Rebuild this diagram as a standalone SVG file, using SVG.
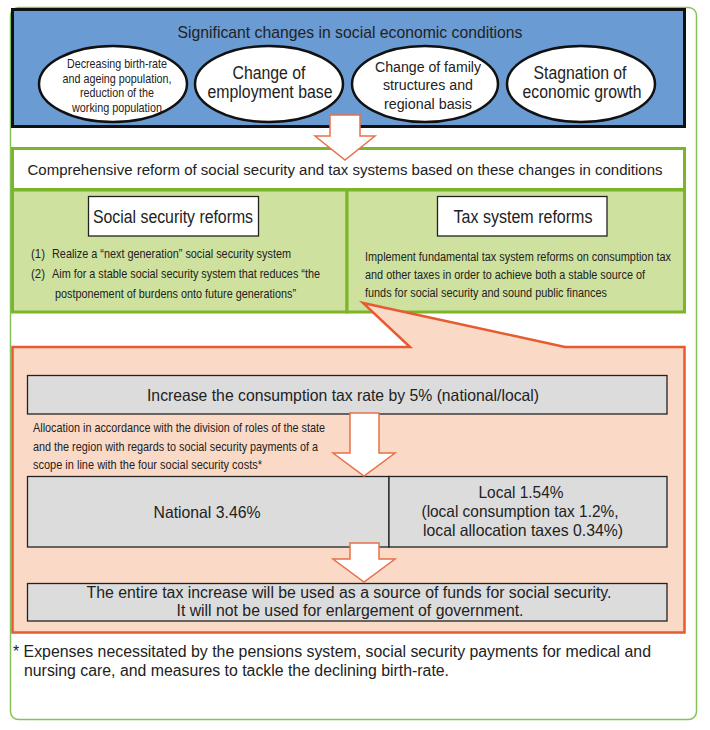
<svg xmlns="http://www.w3.org/2000/svg" width="710" height="730" viewBox="0 0 710 730">
<style>
text{font-family:"Liberation Sans",Arial,sans-serif;fill:#222;}
.c{text-anchor:middle;}
.n{font-size:13.5px;}
.ell{fill:#fff;stroke:#111;stroke-width:2.5;}
.gbox{fill:#cfe19e;stroke:#7cb42a;stroke-width:3;}
.gray{fill:#dcdcdc;stroke:#222;stroke-width:1.3;}
.arr{fill:#fff;stroke:#e8704a;stroke-width:1.5;}
.lbl{fill:#fff;stroke:#222;stroke-width:1.3;}
</style>
<rect x="10.5" y="7.5" width="686" height="712" rx="8" fill="#fff" stroke="#86c25a" stroke-width="1.5"/>

<g id="changes">
<rect x="12.5" y="9.5" width="672" height="117" fill="#6a9bd2" stroke="#111" stroke-width="3"/>
<text x="350" y="38" class="c" font-size="17" textLength="345" lengthAdjust="spacingAndGlyphs">Significant changes in social economic conditions</text>
</g>
<g id="e1">
<ellipse cx="113" cy="84" rx="74" ry="38" class="ell"/>
<text class="c n" x="117" y="68" textLength="100" lengthAdjust="spacingAndGlyphs">Decreasing birth-rate</text>
<text class="c n" x="117" y="83" textLength="109" lengthAdjust="spacingAndGlyphs">and ageing population,</text>
<text class="c n" x="117" y="97" textLength="74" lengthAdjust="spacingAndGlyphs">reduction of the</text>
<text class="c n" x="117" y="112" textLength="90" lengthAdjust="spacingAndGlyphs">working population</text>
</g>
<g id="e2">
<ellipse cx="269" cy="84" rx="74" ry="38" class="ell"/>
<text class="c" x="269" y="79" font-size="17.5" textLength="73" lengthAdjust="spacingAndGlyphs">Change of</text>
<text class="c" x="270" y="98" font-size="17.5" textLength="125" lengthAdjust="spacingAndGlyphs">employment base</text>
</g>
<g id="e3">
<ellipse cx="425" cy="84" rx="73" ry="38" class="ell"/>
<text class="c" x="428" y="72" font-size="15.5" textLength="106" lengthAdjust="spacingAndGlyphs">Change of family</text>
<text class="c" x="428" y="90" font-size="15.5" textLength="90" lengthAdjust="spacingAndGlyphs">structures and</text>
<text class="c" x="428" y="109" font-size="15.5" textLength="88" lengthAdjust="spacingAndGlyphs">regional basis</text>
</g>
<g id="e4">
<ellipse cx="581" cy="84" rx="74" ry="38" class="ell"/>
<text class="c" x="580" y="79" font-size="17.5" textLength="93" lengthAdjust="spacingAndGlyphs">Stagnation of</text>
<text class="c" x="582" y="98" font-size="17.5" textLength="119" lengthAdjust="spacingAndGlyphs">economic growth</text>
</g>

<g id="comprehensive">
<rect x="12.5" y="148.5" width="672" height="41" fill="#fff" stroke="#7cb42a" stroke-width="3"/>
<text class="c" x="345" y="175" font-size="15.5" textLength="635" lengthAdjust="spacingAndGlyphs">Comprehensive reform of social security and tax systems based on these changes in conditions</text>
</g>

<g id="social">
<rect x="12.5" y="190" width="334.5" height="122" class="gbox"/>
<rect x="88.5" y="196.5" width="170" height="39.5" class="lbl"/>
<text class="c" x="173" y="223" font-size="17.5" textLength="160" lengthAdjust="spacingAndGlyphs">Social security reforms</text>
<text class="n" x="31" y="258" textLength="14" lengthAdjust="spacingAndGlyphs">(1)</text>
<text class="n" x="52" y="258" textLength="239" lengthAdjust="spacingAndGlyphs">Realize a “next generation” social security system</text>
<text class="n" x="31" y="278" textLength="14" lengthAdjust="spacingAndGlyphs">(2)</text>
<text class="n" x="52" y="278" textLength="268" lengthAdjust="spacingAndGlyphs">Aim for a stable social security system that reduces “the</text>
<text class="n" x="55" y="298" textLength="241" lengthAdjust="spacingAndGlyphs">postponement of burdens onto future generations”</text>
</g>

<g id="tax">
<rect x="347" y="190" width="337.5" height="122" class="gbox"/>
<rect x="437.5" y="196.5" width="169.5" height="39.5" class="lbl"/>
<text class="c" x="523" y="223" font-size="17.5" textLength="139" lengthAdjust="spacingAndGlyphs">Tax system reforms</text>
<text class="n" transform="translate(365 261) scale(0.8 1)" x="0" y="0" textLength="382.5" lengthAdjust="spacingAndGlyphs">Implement fundamental tax system reforms on consumption tax</text>
<text class="n" transform="translate(365 279) scale(0.8 1)" x="0" y="0" textLength="350" lengthAdjust="spacingAndGlyphs">and other taxes in order to achieve both a stable source of</text>
<text class="n" transform="translate(365 297) scale(0.8 1)" x="0" y="0" textLength="302.5" lengthAdjust="spacingAndGlyphs">funds for social security and sound public finances</text>
</g>

<g id="consumption-tax">
<path d="M12.5,347 L410,347 L363,303 L565,347 L684.5,347 L684.5,632.5 L12.5,632.5 Z" fill="#fad9c6" stroke="#e85a30" stroke-width="2.5" stroke-linejoin="miter"/>
</g>

<g id="increase">
<rect x="27.5" y="375.5" width="639.5" height="38.5" class="gray"/>
<text class="c" x="343" y="401" font-size="16.5" textLength="392" lengthAdjust="spacingAndGlyphs">Increase the consumption tax rate by 5% (national/local)</text>
</g>
<g id="allocation-note">
<text class="n" x="33" y="432" textLength="292" lengthAdjust="spacingAndGlyphs">Allocation in accordance with the division of roles of the state</text>
<text class="n" x="33" y="451" textLength="285" lengthAdjust="spacingAndGlyphs">and the region with regards to social security payments of a</text>
<text class="n" x="33" y="469" textLength="229" lengthAdjust="spacingAndGlyphs">scope in line with the four social security costs*</text>
</g>

<g id="national">
<rect x="27.5" y="476.5" width="361.5" height="70.5" class="gray"/>
<text class="c" x="207" y="518" font-size="16.5" textLength="107" lengthAdjust="spacingAndGlyphs">National 3.46%</text>
</g>
<g id="local">
<rect x="389" y="476.5" width="278" height="70.5" class="gray"/>
<text class="c" x="521" y="498" font-size="16.5" textLength="85" lengthAdjust="spacingAndGlyphs">Local 1.54%</text>
<text class="c" x="520" y="517" font-size="16.5" textLength="197" lengthAdjust="spacingAndGlyphs">(local consumption tax 1.2%,</text>
<text class="c" x="523" y="536" font-size="16.5" textLength="200" lengthAdjust="spacingAndGlyphs">local allocation taxes 0.34%)</text>
</g>

<g id="result">
<rect x="27.5" y="583.5" width="639.5" height="37.5" class="gray"/>
<text class="c" x="349" y="598" font-size="16" textLength="525" lengthAdjust="spacingAndGlyphs">The entire tax increase will be used as a source of funds for social security.</text>
<text class="c" x="350" y="616" font-size="16" textLength="347" lengthAdjust="spacingAndGlyphs">It will not be used for enlargement of government.</text>
</g>

<g id="footnote">
<text x="13" y="657" font-size="16" textLength="638" lengthAdjust="spacingAndGlyphs">* Expenses necessitated by the pensions system, social security payments for medical and</text>
<text x="24" y="676" font-size="16" textLength="425" lengthAdjust="spacingAndGlyphs">nursing care, and measures to tackle the declining birth-rate.</text>
</g>

<g id="connectors">
<path class="arr" d="M330,115 L360,115 L360,136 L375,136 L345,160 L315,136 L330,136 Z"/>
<path class="arr" d="M350,413 L379,413 L379,453 L395,453 L364,476 L333,453 L350,453 Z"/>
<path class="arr" d="M350,543 L379,543 L379,559 L395,559 L364,582 L333,559 L350,559 Z"/>
</g>
</svg>
